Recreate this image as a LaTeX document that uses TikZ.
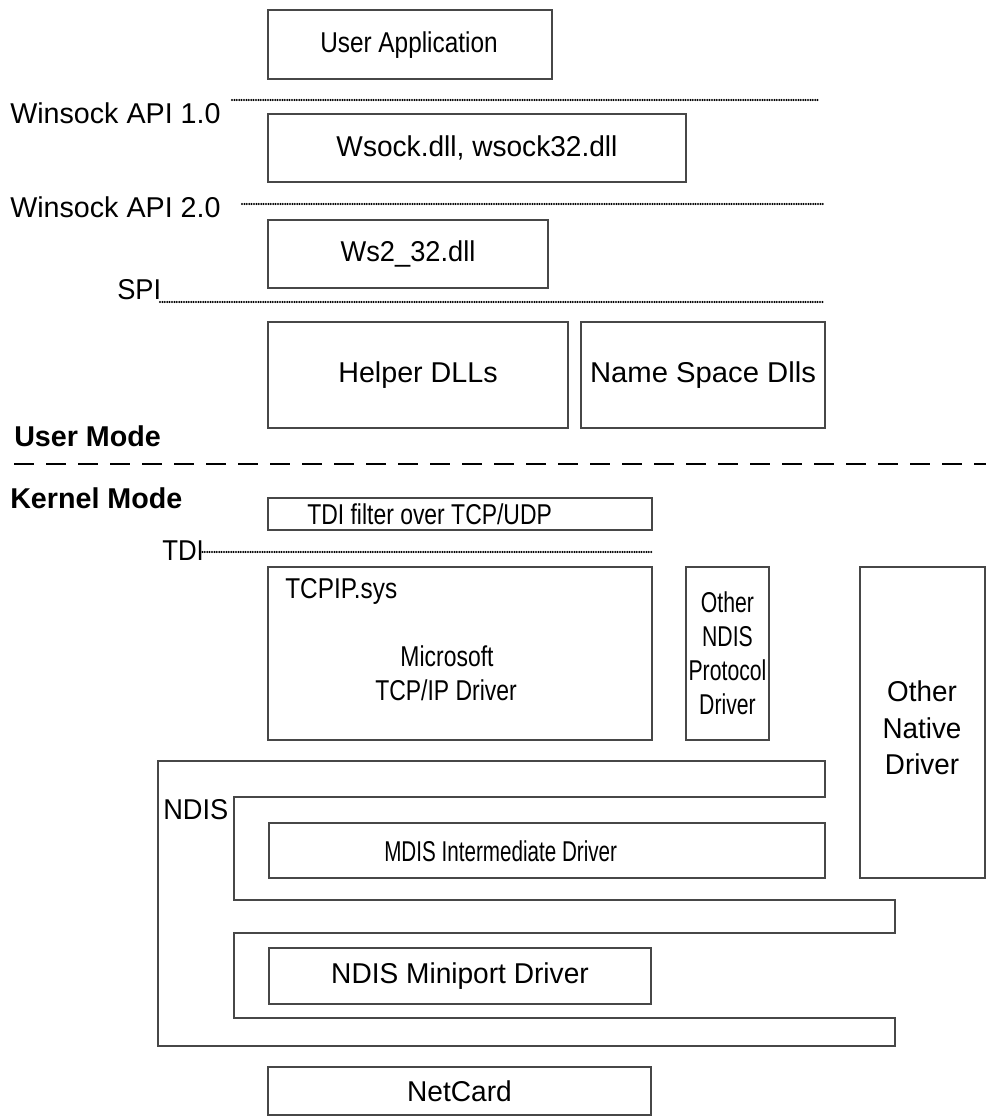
\documentclass[tikz,border=0pt]{standalone}
\usepackage{fontspec}
\setmainfont{Liberation Sans}
\usepackage{graphicx}

% horizontal text stretch
\newcommand\sx[2]{\scalebox{#1}[1]{#2}}
% a layer box given by its corners (in px): name, x1, y1, x2, y2, text
\newcommand\layerbox[6]{%
  \node[box, minimum width={(#4-#2)*0.75pt}, minimum height={(#5-#3)*0.75pt}]
    (#1) at ({(#2+#4)/2},{(#3+#5)/2}) {#6};}

\tikzset{
  box/.style={draw=black!72, line width=0.9pt, inner sep=0pt, align=center},
  outline/.style={draw=black!72, line width=0.9pt},
  txt/.style={inner sep=0pt, align=center},
  apiline/.style={line width=1.7pt, line cap=round, dash pattern=on 0pt off 1.8pt},
  modeline/.style={line width=2.2pt, dash pattern=on 15pt off 9pt},
  bold/.style={font=\fontsize{21.5}{26}\selectfont\bfseries},
}

\begin{document}
\begin{tikzpicture}[x=0.75pt, y=-0.75pt, font=\fontsize{21.5}{25.5}\selectfont]
\useasboundingbox (0,0) rectangle (986,1117);

% ---- user-mode stack ----
\layerbox{app}{268}{10}{552}{79}{}
\node[txt] (app-t) at (409,45) {\sx{0.85}{User Application}};

\node[txt, anchor=west] (api1) at (10,113) {Winsock API 1.0};
\coordinate (api1a) at (232,100);
\coordinate (api1b) at (818,100);
\draw[apiline] (api1a) -- (api1b);

\layerbox{wsock}{268}{114}{686}{182}{\sx{0.98}{Wsock.dll, wsock32.dll}}

\node[txt, anchor=west] (api2) at (10,207) {Winsock API 2.0};
\coordinate (api2a) at (242,204);
\coordinate (api2b) at (824,204);
\draw[apiline] (api2a) -- (api2b);

\layerbox{ws2}{268}{220}{548}{288}{\sx{0.95}{Ws2\_32.dll}}

\node[txt, anchor=west] (spi) at (117,290) {\sx{0.95}{SPI}};
\coordinate (spia) at (160,302);
\coordinate (spib) at (824,302);
\draw[apiline] (spia) -- (spib);

\layerbox{helper}{268}{322}{568}{428}{Helper DLLs}
\layerbox{ns}{581}{322}{825}{428}{\sx{1.02}{Name Space Dlls}}

% ---- user / kernel boundary ----
\node[txt, anchor=west, bold] (um) at (14,436) {User Mode};
\coordinate (mode-a) at (14,464);
\coordinate (mode-b) at (986,464);
\draw[modeline] (mode-a) -- (mode-b);
\node[txt, anchor=west, bold] (km) at (10,498) {Kernel Mode};

% ---- kernel-mode stack ----
\layerbox{tdif}{268}{498}{652}{530}{}
\node[txt, anchor=west] (tdif-t) at (307,514) {\sx{0.8}{TDI filter over TCP/UDP}};

\node[txt, anchor=west] (tdi) at (162,551) {\sx{0.9}{TDI}};
\coordinate (tdia) at (200,552);
\coordinate (tdib) at (652,552);
\draw[apiline] (tdia) -- (tdib);

\layerbox{tcpip}{268}{567}{652}{740}{}
\node[txt, anchor=west] (tcpip-name) at (285,591) {\sx{0.85}{TCPIP.sys}};
\node[txt] (tcpip-l1) at (447,656) {\sx{0.8}{Microsoft}};
\node[txt] (tcpip-l2) at (446,690) {\sx{0.8}{TCP/IP Driver}};

\layerbox{otherp}{686}{567}{769}{740}{\sx{0.74}{Other}\\\sx{0.74}{NDIS}\\\sx{0.74}{Protocol}\\\sx{0.74}{Driver}}
\layerbox{othern}{860}{567}{985}{878}{}
\node[txt] (othern-t) at (922,728) {\sx{0.97}{Other}\\[2pt]\sx{0.97}{Native}\\[2pt]\sx{0.97}{Driver}};

% NDIS wrapper, winding around the intermediate and miniport layers
\draw[outline] (158,761) -- (825,761) -- (825,797) -- (234,797) -- (234,900)
  -- (895,900) -- (895,933) -- (234,933) -- (234,1018) -- (895,1018)
  -- (895,1046) -- (158,1046) -- cycle;
\node[txt, anchor=west] (ndis) at (163,810) {\sx{0.95}{NDIS}};

\layerbox{mdis}{269}{823}{825}{878}{}
\node[txt, anchor=west] (mdis-t) at (384,851) {\sx{0.72}{MDIS Intermediate Driver}};
\layerbox{mini}{269}{948}{651}{1004}{\sx{0.98}{NDIS Miniport Driver}}
\layerbox{netcard}{268}{1067}{651}{1115}{\sx{0.98}{NetCard}}
\end{tikzpicture}
\end{document}
